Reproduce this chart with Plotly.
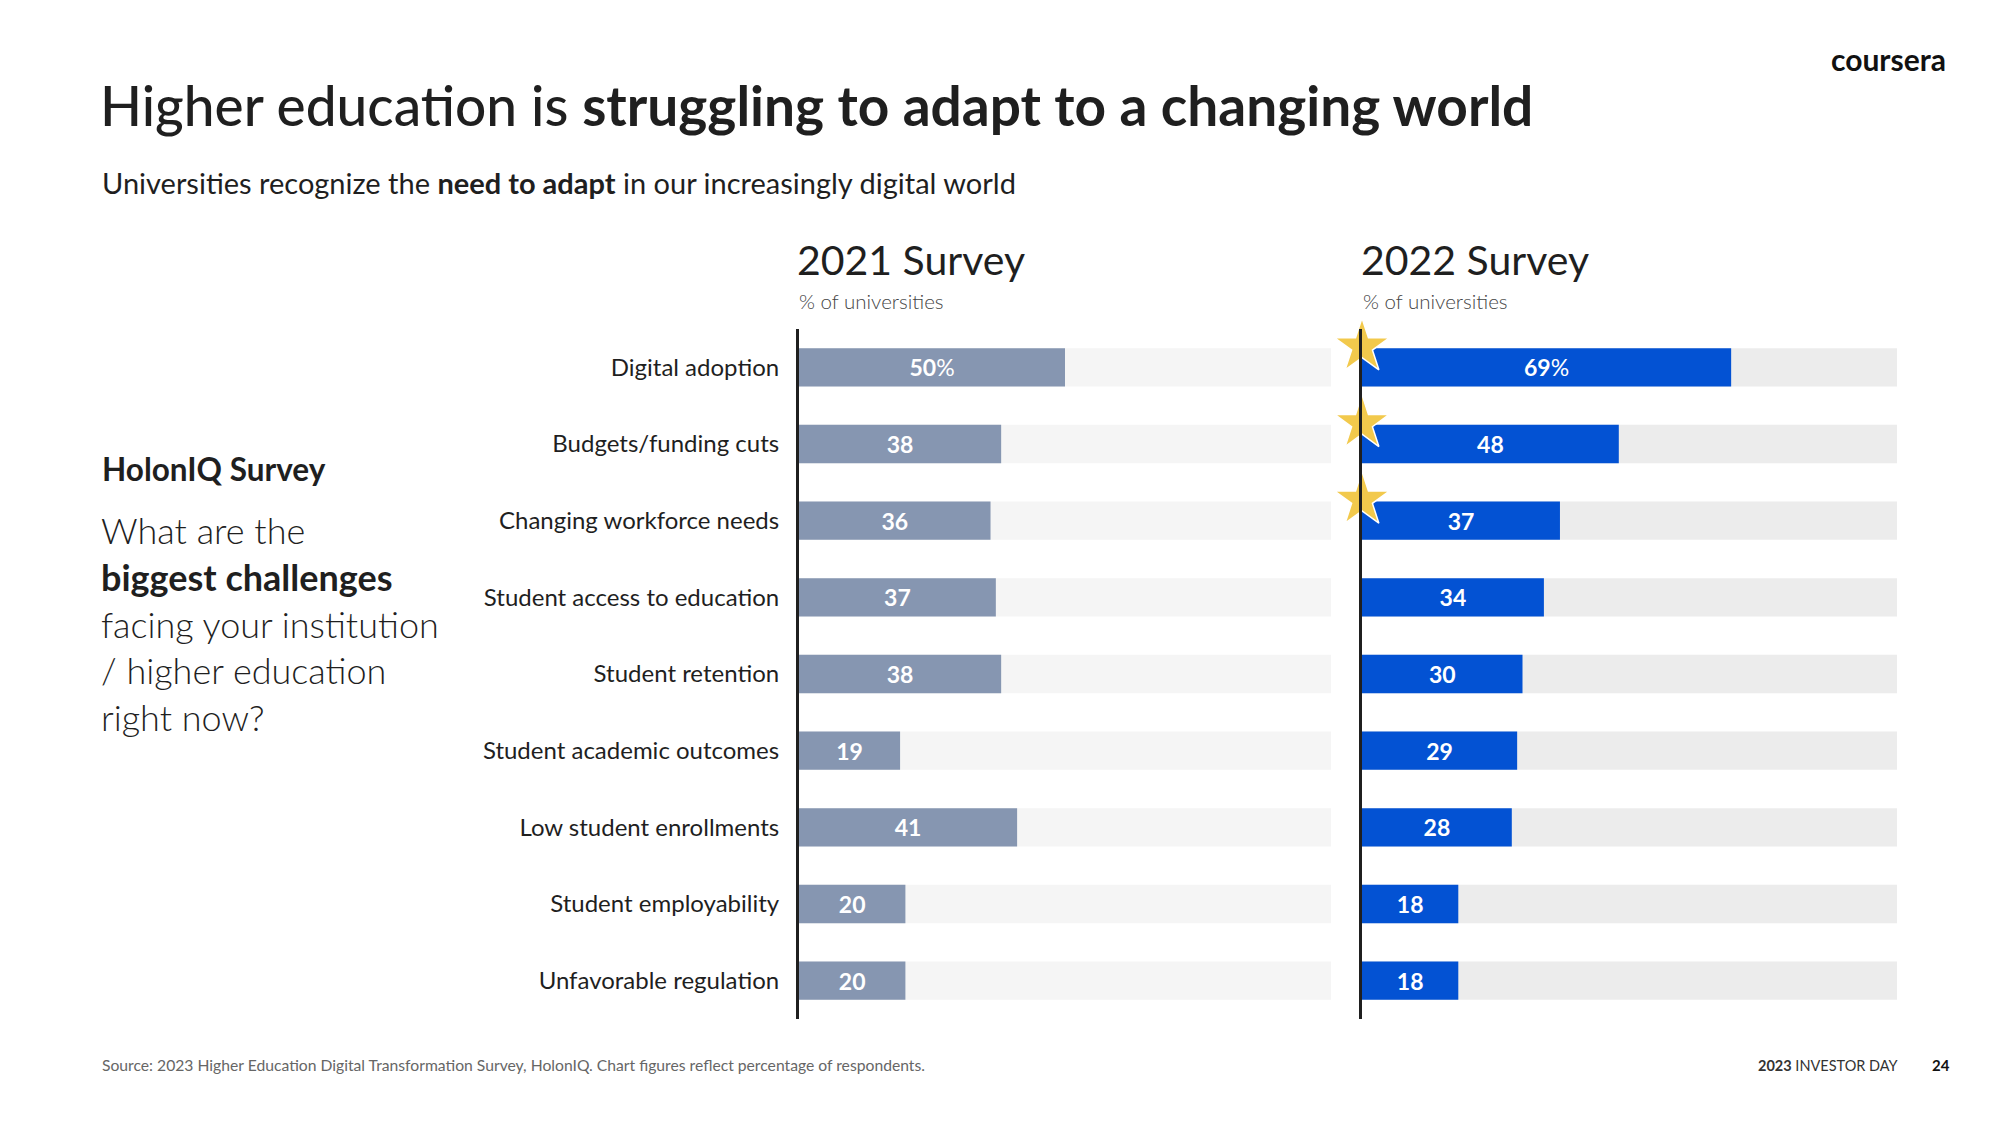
import plotly.graph_objects as go

# ---------------- data ----------------
categories = [
    "Digital adoption",
    "Budgets/funding cuts",
    "Changing workforce needs",
    "Student access to education",
    "Student retention",
    "Student academic outcomes",
    "Low student enrollments",
    "Student employability",
    "Unfavorable regulation",
]
values_2021 = [50, 38, 36, 37, 38, 19, 41, 20, 20]
values_2022 = [69, 48, 37, 34, 30, 29, 28, 18, 18]
starred_2022 = [True, True, True, False, False, False, False, False, False]
track_total = 100

# ---------------- styling ----------------
W, H = 2000, 1125
PAD = 8  # default page body margin
FW, FH = W - 2 * PAD, H - 2 * PAD
FONT = "Lato"
C_2021 = "#8696B1"
C_2022 = "#0352D3"
TRACK_2021 = "#F5F5F5"
TRACK_2022 = "#ECECEC"
STAR = "#F2C94C"
INK = "#1F1F1F"


def fx(px):
    return (px - PAD) / FW


def fy(py):
    return 1 - (py - PAD) / FH


rows = list(range(len(categories)))


def labels(vals):
    return [f"<b>{v}</b>%" if i == 0 else f"<b>{v}</b>" for i, v in enumerate(vals)]


fig = go.Figure()

for xa, ya, vals, col, trk in [("x", "y", values_2021, C_2021, TRACK_2021),
                               ("x2", "y2", values_2022, C_2022, TRACK_2022)]:
    fig.add_trace(go.Bar(
        x=[track_total] * len(rows), y=rows, orientation="h", width=0.5,
        marker=dict(color=trk, line=dict(width=0)), hoverinfo="skip",
        xaxis=xa, yaxis=ya, showlegend=False,
    ))
    fig.add_trace(go.Bar(
        x=vals, y=rows, orientation="h", width=0.5,
        marker=dict(color=col, line=dict(width=0)),
        text=labels(vals), textposition="inside", insidetextanchor="middle",
        textfont=dict(family=FONT, size=23, color="white"),
        constraintext="none",
        xaxis=xa, yaxis=ya, showlegend=False,
    ))

star_rows = [r for r, s in zip(rows, starred_2022) if s]
fig.add_trace(go.Scatter(
    x=[0] * len(star_rows), y=[r - 0.27 for r in star_rows], mode="markers",
    marker=dict(symbol="star", size=41, color=STAR, line=dict(color="white", width=1.5)),
    xaxis="x2", yaxis="y2", cliponaxis=False, showlegend=False, hoverinfo="skip",
))

y_dom = [fy(1019), fy(329)]
fig.update_layout(
    width=FW, height=FH,
    margin=dict(l=0, r=0, t=0, b=0),
    paper_bgcolor="white", plot_bgcolor="white",
    barmode="overlay",
    font=dict(family=FONT, color=INK),
    xaxis=dict(domain=[fx(799), fx(1331)], range=[0, track_total], visible=False, fixedrange=True),
    xaxis2=dict(domain=[fx(1362), fx(1897)], range=[0, track_total], visible=False, fixedrange=True),
    yaxis=dict(domain=y_dom, range=[len(rows) - 0.5, -0.5], anchor="x",
               tickvals=rows, ticktext=categories, ticks="", showgrid=False, zeroline=False,
               showline=True, linecolor=INK, linewidth=3, ticklabelstandoff=12,
               tickfont=dict(family=FONT, size=24, color=INK)),
    yaxis2=dict(domain=y_dom, range=[len(rows) - 0.5, -0.5], anchor="x2",
                showticklabels=False, ticks="", showgrid=False, zeroline=False,
                showline=True, linecolor=INK, linewidth=3),
)

ann = []


def text(s, x, y, size, xanchor="left", yanchor="middle", color=INK, weight=400, align="left"):
    ann.append(dict(text=s, x=fx(x), y=fy(y), xref="paper", yref="paper",
                    xanchor=xanchor, yanchor=yanchor, showarrow=False, align=align,
                    font=dict(family=FONT, size=size, color=color, weight=weight)))


text("Higher education is <b>struggling to adapt to a changing world</b>", 98, 105, 55, weight=500)
text("Universities recognize the <b>need to adapt</b> in our increasingly digital world", 100, 182, 29)
text("<b>coursera</b>", 1948, 59, 30, xanchor="right", color="#111")

text("2021 Survey", 795, 260, 41)
text("% of universities", 797, 301, 20.5, color="#444", weight=300)
text("2022 Survey", 1359, 260, 41)
text("% of universities", 1361, 301, 20.5, color="#444", weight=300)

text("<b>HolonIQ Survey</b>", 100, 469, 31.5)
text("What are the<br><b>biggest challenges</b><br>facing your institution<br>/ higher education<br>right now?",
     99, 506, 36, yanchor="top", weight=300)

text("Source: 2023 Higher Education Digital Transformation Survey, HolonIQ. Chart figures reflect percentage of respondents.",
     100, 1065, 15.7, color="#666", weight=400)
text("<b>2023</b> INVESTOR DAY", 1901, 1065, 14.5, xanchor="right", color="#333")
text("<b>24</b>", 1952, 1065, 15, xanchor="right", color="#111")

fig.update_layout(annotations=ann)

fig.write_html("out.html")
